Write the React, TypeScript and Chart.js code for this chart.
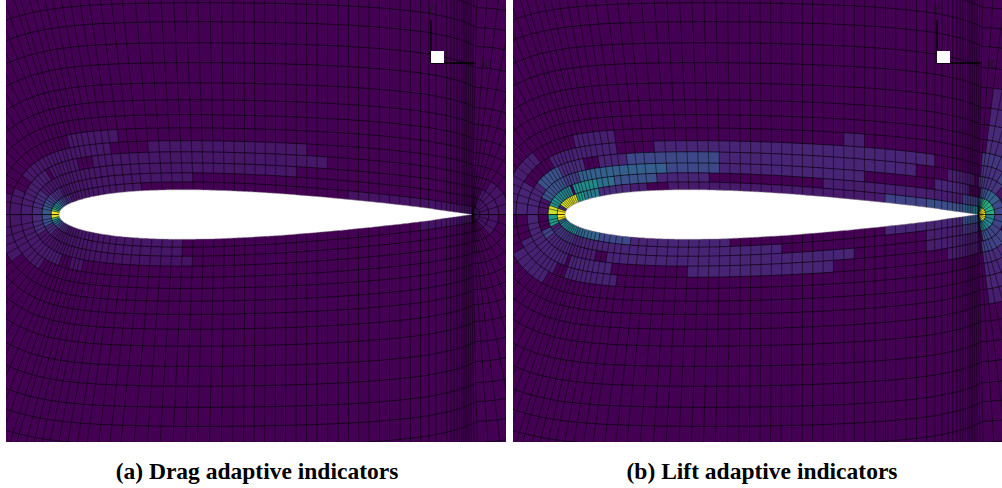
import React, { useEffect, useRef } from "react";
import { Chart, registerables } from "chart.js";

Chart.register(...registerables);

// Mesh stations round the aerofoil, in % of chord. Keys above 100 are the fan at the trailing edge.
const stationKey = [0, 0.08, 0.2, 0.35, 0.55, 0.8, 1.05, 1.3, 1.6, 1.9, 2.2, 2.5, 2.9, 3.3, 3.8, 4.4, 5, 5.8, 6.6, 7.5, 8.5, 9.7, 11, 12.5, 14, 16, 18, 20, 22.5, 25, 27.5, 30, 32.5, 35, 37.5, 40, 42.5, 45, 47.5, 50, 52.5, 55, 57.5, 60, 62.5, 65, 67.5, 70, 72.5, 75, 77.5, 80, 82.5, 85, 87.5, 89.5, 91.2, 92.6, 93.8, 94.8, 95.6, 96.3, 96.9, 97.4, 97.8, 98.2, 98.6, 99, 99.4, 99.8, 100, 101, 102, 103, 104, 105, 106, 107, 108, 109, 110];
const stationX = [0, 0.08, 0.2, 0.35, 0.55, 0.8, 1.05, 1.3, 1.6, 1.9, 2.2, 2.5, 2.9, 3.3, 3.8, 4.4, 5, 5.8, 6.6, 7.5, 8.5, 9.7, 11, 12.5, 14, 16, 18, 20, 22.5, 25, 27.5, 30, 32.5, 35, 37.5, 40, 42.5, 45, 47.5, 50, 52.5, 55, 57.5, 60, 62.5, 65, 67.5, 70, 72.5, 75, 77.5, 80, 82.5, 85, 87.5, 89.5, 91.2, 92.6, 93.8, 94.8, 95.6, 96.3, 96.9, 97.4, 97.8, 98.2, 98.6, 99, 99.4, 99.8, 100, 100, 100, 100, 100, 100, 100, 100, 100, 100, 100];
const stationHalf = [0, 0.5, 0.78, 1.03, 1.28, 1.53, 1.74, 1.93, 2.13, 2.3, 2.47, 2.62, 2.8, 2.96, 3.16, 3.36, 3.55, 3.78, 3.99, 4.2, 4.41, 4.63, 4.84, 5.06, 5.26, 5.44, 5.61, 5.74, 5.86, 5.94, 5.99, 6, 5.99, 5.95, 5.9, 5.8, 5.69, 5.57, 5.44, 5.29, 5.14, 4.94, 4.75, 4.56, 4.34, 4.12, 3.89, 3.66, 3.41, 3.16, 2.89, 2.62, 2.34, 2.05, 1.75, 1.51, 1.24, 1.04, 0.87, 0.73, 0.62, 0.52, 0.43, 0.36, 0.31, 0.25, 0.2, 0.14, 0.08, 0.03, 0, 0, 0, 0, 0, 0, 0, 0, 0, 0, 0];
const stationTilt = [90, 82, 75, 68, 62, 55, 49, 44, 39, 35, 31, 27.5, 24.5, 22, 20, 18, 17, 15.5, 14.3, 13.2, 12.2, 11.2, 10.2, 9.2, 8.3, 7.4, 6.6, 5.8, 5, 4.2, 3.5, 2.8, 2.2, 1.7, 1.2, 0.8, 0.5, 0.35, 0.3, 0.25, 0.2, 0.15, 0.1, 0.05, 0.02, -0.02, -0.05, -0.08, -0.1, -0.1, -0.1, -0.1, -0.1, -0.1, -0.1, -0.1, -0.1, -0.1, -0.1, -0.1, -0.1, -0.1, -0.1, -0.1, -0.1, -0.15, -0.2, -0.3, -0.45, -0.7, -1.3, -4, -7, -11, -16, -22, -30, -41, -56, -73, -90];
const layerDepth = [0, 1.9, 4.1, 6.5, 9.2, 11.9, 15, 18.2, 21.8, 25.9, 30.8, 35.6, 40.7, 45.3, 50.1, 55.2, 60.5, 65.9];
const layerFlatten = [0, 0.1, 0.2, 0.3, 0.4, 0.5, 0.55, 0.6, 0.65, 0.7, 0.74, 0.78, 0.82, 0.85, 0.88, 0.9, 0.92, 0.94];
const maxHalf = 6;

// Indicator runs: [layer, from station key, to station key, indicator value 0..1]
const dragUpper = [
  [0, 0, 0.08, 1], [0, 0.08, 0.2, 0.75], [0, 0.2, 0.35, 0.6], [0, 0.35, 0.55, 0.5], [0, 0.55, 0.8, 0.45], [0, 0.8, 1.05, 0.38], [0, 1.05, 1.3, 0.32], [0, 1.3, 1.6, 0.26], [0, 1.6, 2.2, 0.2], [0, 2.2, 3.3, 0.12], [0, 3.3, 20, 0.06], [0, 69, 100, 0.05],
  [1, 0, 0.2, 0.28], [1, 0.2, 0.55, 0.24], [1, 0.55, 1.05, 0.18], [1, 1.05, 2.2, 0.12], [1, 2.2, 34, 0.06],
  [2, 0, 0.8, 0.12], [2, 0.8, 57.5, 0.06],
  [3, 0, 2, 0.08], [3, 2, 7, 0.06], [3, 9.7, 65, 0.06],
  [4, 0, 0.35, 0.06], [4, 0.8, 14, 0.06], [4, 22.5, 60, 0.06],
  [5, 0, 0.2, 0.05], [5, 5.8, 16, 0.06],
  [0, 105, 110, 0.06], [1, 105, 110, 0.05], [2, 105, 110, 0.06], [3, 106, 110, 0.05],
];
const dragLower = [
  [0, 0, 0.08, 0.95], [0, 0.08, 0.2, 0.7], [0, 0.2, 0.35, 0.5], [0, 0.35, 0.55, 0.4], [0, 0.55, 0.8, 0.3], [0, 0.8, 1.3, 0.2], [0, 1.3, 2.5, 0.12], [0, 2.5, 30, 0.06], [0, 87.5, 100, 0.05],
  [1, 0, 0.35, 0.25], [1, 0.35, 1.05, 0.12], [1, 1.05, 30, 0.06],
  [2, 0, 0.55, 0.12], [2, 0.55, 32.5, 0.05],
  [3, 0, 3.3, 0.07], [3, 5, 7.5, 0.05],
  [4, 0, 1.9, 0.06],
  [5, 0, 0.8, 0.06],
  [0, 107, 110, 0.05], [1, 107, 110, 0.05], [2, 107, 110, 0.05],
];
const liftUpper = [
  [0, 0, 0.2, 1], [0, 0.2, 0.55, 0.15], [0, 0.55, 3.3, 0.95], [0, 3.3, 5, 0.55], [0, 5, 8.5, 0.4], [0, 8.5, 16, 0.12], [0, 16, 20, 0.08], [0, 25, 77.5, 0.07], [0, 77.5, 87.5, 0.2], [0, 87.5, 96.3, 0.24], [0, 96.3, 98.6, 0.32], [0, 98.6, 100, 0.42],
  [1, 0, 0.2, 0.92], [1, 0.2, 0.8, 0.5], [1, 0.8, 3, 0.45], [1, 3, 8.5, 0.48], [1, 8.5, 12.5, 0.36], [1, 12.5, 22.5, 0.25], [1, 22.5, 35, 0.1], [1, 62.5, 96.3, 0.08], [1, 96.3, 100, 0.2],
  [2, 0, 0.35, 0.05], [2, 0.35, 2.5, 0.25], [2, 2.5, 5, 0.18], [2, 5, 25, 0.3], [2, 25, 37.5, 0.22], [2, 37.5, 72.5, 0.1], [2, 89.5, 97.8, 0.1],
  [3, 0, 0.8, 0.1], [3, 0.8, 2.5, 0.25], [3, 2.5, 7, 0.12], [3, 9.7, 16, 0.1], [3, 16, 37.5, 0.22], [3, 37.5, 85, 0.1], [3, 92.6, 99, 0.08],
  [4, 0, 0.55, 0.1], [4, 2.2, 14, 0.09], [4, 22.5, 89.5, 0.1],
  [5, 0, 1.6, 0.08], [5, 5.8, 14, 0.08],
  [5, 67.5, 72.5, 0.08],
  [0, 100, 103, 0.45], [0, 103, 106, 0.6], [0, 106, 110, 1],
  [1, 100, 104, 0.4], [1, 104, 110, 0.62],
  [2, 102, 105, 0.25], [2, 105, 108, 0.3], [2, 108, 110, 0.22],
  [3, 100, 107, 0.15], [3, 107, 110, 0.05],
  [4, 101, 106, 0.14], [4, 106, 108, 0.2], [5, 101, 107, 0.16], [6, 102, 106, 0.12], [7, 102, 106, 0.12], [8, 102, 105, 0.1], [9, 102, 104, 0.08],
];
const liftLower = [
  [0, 0, 0.2, 1], [0, 0.2, 0.55, 0.35], [0, 0.55, 3.3, 0.45], [0, 3.3, 8.5, 0.32], [0, 8.5, 16, 0.22], [0, 16, 40, 0.1], [0, 77.5, 96.3, 0.1], [0, 96.3, 100, 0.25],
  [1, 0, 0.35, 0.55], [1, 0.35, 0.8, 0.1], [1, 0.8, 3.3, 0.15], [1, 3.3, 20, 0.1], [1, 20, 52.5, 0.1], [1, 87.5, 96.3, 0.08], [1, 96.3, 100, 0.15],
  [2, 0.35, 0.8, 0.2], [2, 0.8, 3.3, 0.1], [2, 3.3, 8.5, 0.08], [2, 11, 70, 0.1], [2, 87.5, 100, 0.08],
  [3, 0, 0.8, 0.1], [3, 0.8, 3.3, 0.1], [3, 3.8, 12.5, 0.1], [3, 30, 65, 0.1], [3, 92.6, 100, 0.07],
  [4, 0.35, 2.5, 0.09], [4, 3.8, 14, 0.09],
  [5, 0.55, 2.2, 0.09],
  [0, 100, 106, 0.4], [0, 106, 110, 0.98], [1, 103, 110, 0.45], [2, 103, 106, 0.25], [2, 106, 110, 0.2], [3, 102, 108, 0.2], [4, 102, 107, 0.12], [5, 102, 106, 0.1], [6, 102, 105, 0.1], [7, 102, 105, 0.08],
];

const viridisStops = ["#440154", "#482878", "#3e4989", "#31688e", "#26828e", "#1f9e89", "#35b779", "#6ece58", "#b5de2b", "#fde725"];
// Orientation triad in % of chord: origin, axis ends, white square corner
const triadOrigin = [90.07, 36.68];
const triadEnds = [100.73, 47.09];
const triadSquare = [93.22, 39.59];

const captionA = "(a) Drag adaptive indicators";
const captionB = "(b) Lift adaptive indicators";

function viridis(v: number) {
  const p = Math.min(0.9999, v) * (viridisStops.length - 1);
  const i = Math.floor(p);
  const f = p - i;
  const rgb = (h: string) => [1, 3, 5].map((k) => parseInt(h.slice(k, k + 2), 16));
  const a = rgb(viridisStops[i]);
  const b = rgb(viridisStops[i + 1]);
  return `rgb(${a.map((c, n) => Math.round(c + (b[n] - c) * f)).join(",")})`;
}

function node(s: number, j: number, sign: number) {
  const t = (stationTilt[s] * Math.PI) / 180;
  const d = layerDepth[j];
  const h = stationHalf[s];
  const lifted = h + (maxHalf - h) * layerFlatten[j] * Math.sqrt(h / maxHalf);
  return { x: stationX[s] - d * Math.sin(t), y: sign * (lifted + d * Math.cos(t)) };
}

// A hair of tension keeps Chart.js off its pixel-collapsing fast path, so thin cells and near-vertical lines stay true.
const exactPath = { tension: 0.0001, capBezierPoints: false };

function polygon(data: { x: number; y: number }[], color: string, order: number) {
  return { type: "line", data: [...data, data[0]], fill: "shape", backgroundColor: color, borderWidth: 0, borderColor: "rgba(0,0,0,0)", pointRadius: 0, order, ...exactPath };
}

function line(data: { x: number; y: number }[], color: string, width: number, order: number) {
  return { type: "line", data, fill: false, borderColor: color, borderWidth: width, pointRadius: 0, order, ...exactPath };
}

function buildDatasets(upper: number[][], lower: number[][], xMin: number, xMax: number, yMin: number, yMax: number) {
  const sets: any[] = [];
  const all = stationKey.map((_, i) => i);
  sets.push(polygon([{ x: xMin, y: yMin }, { x: xMax, y: yMin }, { x: xMax, y: yMax }, { x: xMin, y: yMax }], viridisStops[0], 6));
  const addRuns = (runs: number[][], sign: number) => {
    for (const [layer, from, to, value] of runs) {
      const idx = all.filter((i) => stationKey[i] >= from && stationKey[i] <= to);
      if (idx.length < 2) continue;
      const outer = idx.map((i) => node(i, layer + 1, sign));
      const inner = idx.map((i) => node(i, layer, sign)).reverse();
      sets.push(polygon([...outer, ...inner], viridis(value), 5));
    }
  };
  addRuns(upper, 1);
  addRuns(lower, -1);
  // wrap lines
  const backward = [...all].reverse();
  for (let j = 1; j < layerDepth.length; j++) {
    const path = [...backward.map((s) => node(s, j, -1)), ...all.map((s) => node(s, j, 1))];
    sets.push(line(path, "rgba(0,0,0,0.8)", 0.8, 4));
  }
  // radial lines
  for (const s of all) {
    for (const sign of [1, -1]) {
      sets.push(line(layerDepth.map((_, j) => node(s, j, sign)), "rgba(0,0,0,0.72)", 0.7, 4));
    }
  }
  // aerofoil
  const surface = [...all.slice(0, 71).map((s) => node(s, 0, 1)), ...all.slice(0, 71).reverse().map((s) => node(s, 0, -1))];
  sets.push({ ...polygon(surface, "#ffffff", 3), borderWidth: 0.5, borderColor: "#8a8a8a" });
  // triad
  const [ox, oy] = triadOrigin;
  sets.push(polygon([{ x: ox, y: oy }, { x: triadSquare[0], y: oy }, { x: triadSquare[0], y: triadSquare[1] }, { x: ox, y: triadSquare[1] }], "#ffffff", 1));
  sets.push(line([{ x: ox, y: oy }, { x: triadEnds[0], y: oy }], "#000000", 1.4, 2));
  sets.push(line([{ x: ox, y: oy }, { x: ox, y: triadEnds[1] }], "#000000", 1.4, 2));
  return sets;
}

function Panel(props: { left: number; width: number; xMin: number; xMax: number; upper: number[][]; lower: number[][] }) {
  const ref = useRef<HTMLCanvasElement | null>(null);
  useEffect(() => {
    const yMax = 51.94;
    const yMin = -55.08;
    const chart = new Chart(ref.current as HTMLCanvasElement, {
      type: "line",
      data: { datasets: buildDatasets(props.upper, props.lower, props.xMin, props.xMax, yMin, yMax) },
      options: {
        responsive: false,
        animation: false,
        events: [],
        layout: { padding: 0 },
        plugins: { legend: { display: false }, tooltip: { enabled: false }, title: { display: false } },
        scales: {
          x: { type: "linear", min: props.xMin, max: props.xMax, display: false },
          y: { type: "linear", min: yMin, max: yMax, display: false },
        },
      },
    } as any);
    return () => chart.destroy();
  }, []);
  return <canvas ref={ref} width={props.width} height={442} style={{ position: "absolute", left: props.left, top: 0, width: props.width, height: 442 }} />;
}

const axisText: React.CSSProperties = { position: "absolute", font: "11px 'Liberation Sans'", color: "#1a1a1a", lineHeight: "12px" };
const captionText: React.CSSProperties = { position: "absolute", top: 459, font: "bold 23.5px 'Liberation Serif'", color: "#000", textAlign: "center", lineHeight: "24px", whiteSpace: "nowrap" };

export default function App() {
  return (
    <div style={{ position: "fixed", left: 0, top: 0, width: 1002, height: 488, background: "#fff", overflow: "hidden" }}>
      <Panel left={6} width={500} xMin={-12.83} xMax={108.23} upper={dragUpper} lower={dragLower} />
      <Panel left={513} width={489} xMin={-12.59} xMax={105.81} upper={liftUpper} lower={liftLower} />
      {[0, 506].map((dx) => (
        <React.Fragment key={dx}>
          <span style={{ ...axisText, left: 427 + dx, top: 3 }}>Y</span>
          <span style={{ ...axisText, left: 481 + dx, top: 58 }}>X</span>
        </React.Fragment>
      ))}
      <div style={{ ...captionText, left: 57, width: 400 }}>{captionA}</div>
      <div style={{ ...captionText, left: 562, width: 400 }}>{captionB}</div>
    </div>
  );
}
